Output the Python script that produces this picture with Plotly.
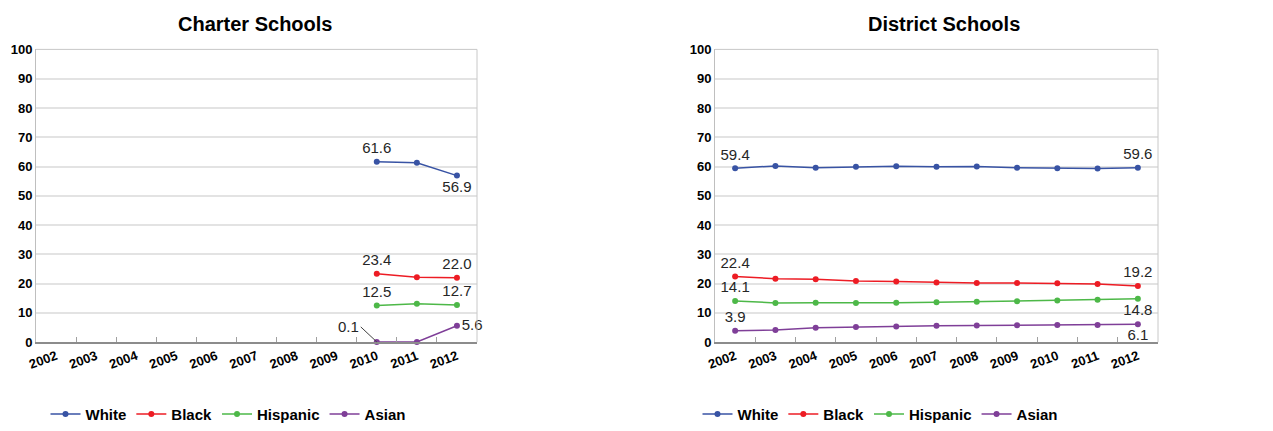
import plotly.graph_objects as go
from plotly.subplots import make_subplots

years = [str(y) for y in range(2002, 2013)]
groups = ["White", "Black", "Hispanic", "Asian"]
colors = ["#3853A4", "#ED1C24", "#4DB848", "#7F3F98"]

charter_years = ["2010", "2011", "2012"]
charter_white = [61.6, 61.3, 56.9]
charter_black = [23.4, 22.2, 22.0]
charter_hispanic = [12.5, 13.1, 12.7]
charter_asian = [0.1, 0.1, 5.6]

district_white = [59.4, 60.2, 59.6, 59.9, 60.1, 59.9, 60.0, 59.6, 59.4, 59.3, 59.6]
district_black = [22.4, 21.7, 21.5, 20.9, 20.7, 20.4, 20.2, 20.2, 20.1, 19.9, 19.2]
district_hispanic = [14.1, 13.4, 13.5, 13.4, 13.5, 13.6, 13.8, 14.0, 14.2, 14.5, 14.8]
district_asian = [3.9, 4.2, 4.9, 5.2, 5.4, 5.6, 5.7, 5.8, 5.9, 5.9, 6.1]

charter = [charter_white, charter_black, charter_hispanic, charter_asian]
district = [district_white, district_black, district_hispanic, district_asian]

# which points get a value label, and where
charter_pos = [
    ["top center", None, "bottom center"],
    ["top center", None, "top center"],
    ["top center", None, "top center"],
    [None, None, "middle right"],
]
district_pos = [
    ["top center"] + [None] * 9 + ["top center"],
    ["top center"] + [None] * 9 + ["top center"],
    ["top center"] + [None] * 9 + ["bottom center"],
    ["top center"] + [None] * 9 + ["bottom center"],
]

# page body keeps its 8px margin, so the figure is shrunk to still fill the window
W, H = 1273, 431
OFF = 8
FW, FH = W - OFF, H - OFF

def px(x):
    return (x - OFF) / FW

def py(y):
    return (FH - (y - OFF)) / FH

fig = make_subplots(rows=1, cols=2)

def add_series(xs, series, positions, col, legend):
    for name, vals, pos, c in zip(groups, series, positions, colors):
        text = ["%.1f" % v if p else "" for v, p in zip(vals, pos)]
        tpos = [p if p else "top center" for p in pos]
        fig.add_trace(go.Scatter(
            x=xs, y=vals, name=name, mode="lines+markers+text",
            line=dict(color=c, width=1.5), marker=dict(color=c, size=6),
            text=text, textposition=tpos,
            textfont=dict(family="Arial", size=15, color="#262626"),
            legend=legend, cliponaxis=False,
        ), row=1, col=col)

add_series(charter_years, charter, charter_pos, 1, "legend")
add_series(years, district, district_pos, 2, "legend2")

# leader-line label for the charter Asian 2010 value (category index on x)
fig.add_annotation(x=years.index(charter_years[0]), y=charter_asian[0], xref="x", yref="y",
                   text="%.1f" % charter_asian[0], showarrow=True, arrowhead=0,
                   arrowwidth=1, arrowcolor="#404040", ax=-16, ay=-15,
                   xanchor="right", font=dict(family="Arial", size=15, color="#262626"))

ydom = [py(347), py(50)]
xdoms = [[px(36), px(477)], [px(715), px(1158)]]

for i, dom in enumerate(xdoms, start=1):
    fig.update_xaxes(domain=dom, type="category", categoryorder="array",
                     categoryarray=years, range=[-0.5, 10.5], automargin=False,
                     tickson="boundaries", ticks="inside", ticklen=5,
                     tickcolor="#A0A0A0", showgrid=False, showline=True,
                     linecolor="#8C8C8C", linewidth=1.5, tickangle=-20,
                     tickfont=dict(family="Arial", size=13, color="#000000", weight="bold"),
                     row=1, col=i)
    fig.update_yaxes(domain=ydom, range=[0, 100], dtick=10, showgrid=True,
                     gridcolor="#E3E3E3", gridwidth=1.5, showline=True,
                     linecolor="#BFBFBF", zeroline=False, ticks="", automargin=False,
                     tickfont=dict(family="Arial", size=13, color="#000000", weight="bold"),
                     row=1, col=i)
    xr = "x" if i == 1 else "x2"
    yr = "y" if i == 1 else "y2"
    fig.add_shape(type="line", xref=xr + " domain", yref=yr + " domain",
                  x0=0, x1=1, y0=1, y1=1, line=dict(color="#C8C8C8", width=1))
    fig.add_shape(type="line", xref=xr + " domain", yref=yr + " domain",
                  x0=1, x1=1, y0=0, y1=1, line=dict(color="#C8C8C8", width=1))

for title, cx in [("Charter Schools", 255), ("District Schools", 944)]:
    fig.add_annotation(text="<b>%s</b>" % title, x=px(cx), y=py(24),
                       xref="paper", yref="paper", showarrow=False,
                       xanchor="center", yanchor="middle",
                       font=dict(family="Arial", size=20, color="#000000"))

legend_style = dict(orientation="h", yanchor="middle", xanchor="center",
                    y=py(420), itemwidth=30,
                    font=dict(family="Arial", size=15, color="#000000", weight="bold"),
                    bgcolor="rgba(0,0,0,0)")
fig.update_layout(
    width=FW, height=FH, margin=dict(l=0, r=0, t=0, b=0),
    paper_bgcolor="white", plot_bgcolor="white",
    legend=dict(x=px(228), **legend_style),
    legend2=dict(x=px(880), **legend_style),
)

fig.write_html("out.html", config={"displayModeBar": False})
